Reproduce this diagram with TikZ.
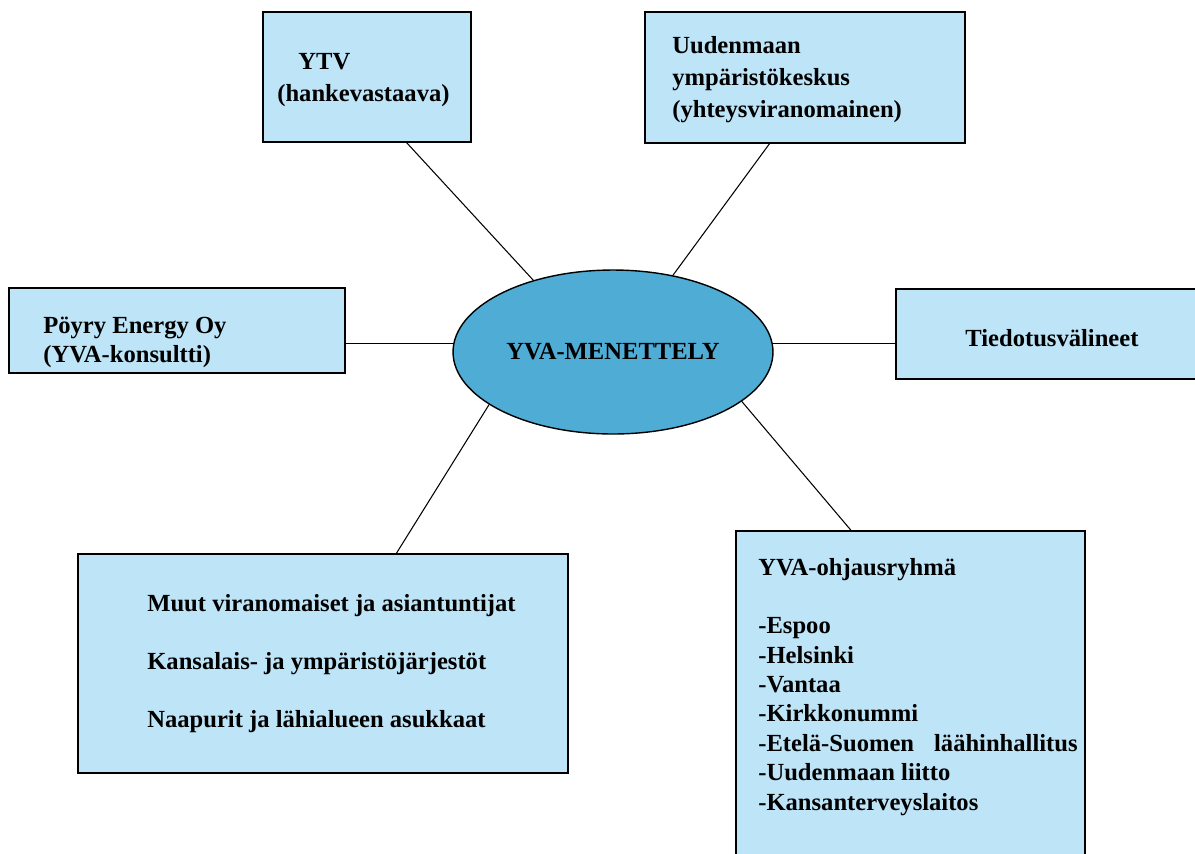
\documentclass[tikz,border=0pt]{standalone}
\usepackage{fontspec}
\setmainfont{Liberation Serif}
\usetikzlibrary{shapes.geometric,calc}
\definecolor{azulclaro}{RGB}{189,228,247}
\definecolor{azulescuro}{RGB}{79,172,212}
\tikzset{
  caixa/.style={draw=black, fill=azulclaro, line width=1pt, anchor=north west, inner sep=0pt},
  texto/.style={anchor=base west, inner sep=0pt, align=left, font=\fontsize{14}{#1}\selectfont\bfseries},
  texto/.default=16.7,
  elo/.style={draw=black, line width=0.6pt}
}
\begin{document}
\begin{tikzpicture}[x=0.02cm, y=-0.02cm]
  \useasboundingbox (0,0) rectangle (1195,853);

  % Caixas
  \node[caixa, minimum width=4.16cm, minimum height=2.6cm] (ytv) at (262,11) {};
  \node[caixa, minimum width=6.4cm, minimum height=2.62cm] (uusimaa) at (644,11) {};
  \node[caixa, minimum width=6.72cm, minimum height=1.7cm] (poyry) at (8,287) {};
  \node[caixa, minimum width=6.2cm, minimum height=1.8cm] (media) at (895,288) {};
  \node[caixa, minimum width=9.8cm, minimum height=4.38cm] (muut) at (77,553) {};
  \node[caixa, minimum width=6.98cm, minimum height=6.8cm] (ohjaus) at (735,530) {};

  % Elipse
  \node[ellipse, draw=black, fill=azulescuro, line width=0.8pt, inner sep=0pt,
        minimum width=6.4cm, minimum height=3.28cm,
        font=\fontsize{14}{16.7}\selectfont\bfseries] (yva) at (613,352) {YVA-MENETTELY};

  % Ligacoes
  \draw[elo] ($(ytv.south west)!0.69!(ytv.south east)$) -- (yva.138);
  \draw[elo] ($(uusimaa.south west)!0.39!(uusimaa.south east)$) -- (yva.52);
  \draw[elo] (yva.177) -- (yva.177 -| poyry.east);
  \draw[elo] (yva.3) -- (yva.3 -| media.west);
  \draw[elo] (yva.203) -- ($(muut.north west)!0.65!(muut.north east)$);
  \draw[elo] (yva.-21) -- ($(ohjaus.north west)!0.33!(ohjaus.north east)$);

  % Textos (ancorados na linha de base da ultima linha)
  \node[texto=18.2] (ytvtexto) at (277,101) {\hspace*{0.42cm}YTV\\(hankevastaava)};
  \node[texto=18.2] (uusimaatexto) at (672,117) {Uudenmaan\\ympäristökeskus\\(yhteysviranomainen)};
  \node[texto=16.5] (poyrytexto) at (43,362) {Pöyry Energy Oy\\(YVA-konsultti)};
  \node[texto] (mediatexto) at (965,346) {Tiedotusvälineet};
  \node[texto=33] (muuttexto) at (147,727) {Muut viranomaiset ja asiantuntijat\\Kansalais- ja ympäristöjärjestöt\\Naapurit ja lähialueen asukkaat};
  \node[texto=16.7] (ohjaustexto) at (758,810) {YVA-ohjausryhmä\\ \\-Espoo\\-Helsinki\\-Vantaa\\-Kirkkonummi\\-Etelä-Suomen\hspace{0.4cm}läähinhallitus\\-Uudenmaan liitto\\-Kansanterveyslaitos};
\end{tikzpicture}
\end{document}
